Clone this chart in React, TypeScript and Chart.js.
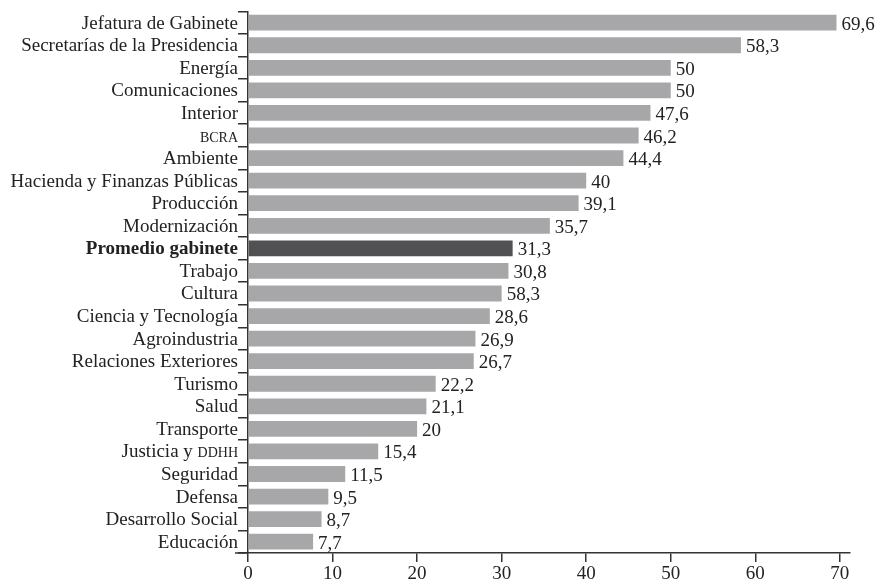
import React, { useEffect, useRef } from "react";
import { Chart, registerables } from "chart.js";

Chart.register(...registerables);

const categories = [
  "Jefatura de Gabinete",
  "Secretarías de la Presidencia",
  "Energía",
  "Comunicaciones",
  "Interior",
  "BCRA",
  "Ambiente",
  "Hacienda y Finanzas Públicas",
  "Producción",
  "Modernización",
  "Promedio gabinete",
  "Trabajo",
  "Cultura",
  "Ciencia y Tecnología",
  "Agroindustria",
  "Relaciones Exteriores",
  "Turismo",
  "Salud",
  "Transporte",
  "Justicia y DDHH",
  "Seguridad",
  "Defensa",
  "Desarrollo Social",
  "Educación",
];

const values = [
  69.6, 58.3, 50, 50, 47.6, 46.2, 44.4, 40, 39.1, 35.7, 31.3, 30.8, 30.0, 28.6,
  26.9, 26.7, 22.2, 21.1, 20, 15.4, 11.5, 9.5, 8.7, 7.7,
];

const valueLabels = [
  "69,6", "58,3", "50", "50", "47,6", "46,2", "44,4", "40", "39,1", "35,7",
  "31,3", "30,8", "58,3", "28,6", "26,9", "26,7", "22,2", "21,1", "20", "15,4",
  "11,5", "9,5", "8,7", "7,7",
];

const xTicks = [0, 10, 20, 30, 40, 50, 60, 70];

const highlightIndex = 10;
const FONT = "'Liberation Serif', 'Times New Roman', serif";
const FS = 19;
const SMALL = 14;
const TEXT = "#222222";
const AXIS = "#333333";

const labelPlugin = {
  id: "customLabels",
  afterDraw(chart: any) {
    const ctx = chart.ctx;
    const ys = chart.scales.y;
    const xs = chart.scales.x;
    const area = chart.chartArea;
    ctx.save();
    ctx.strokeStyle = AXIS;
    ctx.lineWidth = 1.5;
    ctx.beginPath();
    ctx.moveTo(area.left - 13, area.bottom);
    ctx.lineTo(area.left, area.bottom);
    ctx.stroke();

    ctx.fillStyle = TEXT;
    ctx.textBaseline = "alphabetic";
    categories.forEach((cat, i) => {
      const yc = ys.getPixelForValue(i);
      const xr = area.left - 10;
      const yb = yc + 6;
      ctx.textAlign = "right";
      if (cat === "BCRA") {
        ctx.font = `${SMALL}px ${FONT}`;
        ctx.fillText("BCRA", xr, yb);
      } else if (cat === "Justicia y DDHH") {
        ctx.font = `${SMALL}px ${FONT}`;
        const w = ctx.measureText("DDHH").width;
        ctx.fillText("DDHH", xr, yb);
        ctx.font = `${FS}px ${FONT}`;
        ctx.fillText("Justicia y ", xr - w, yb);
      } else {
        ctx.font = `${i === highlightIndex ? "bold " : ""}${FS}px ${FONT}`;
        ctx.fillText(cat, xr, yb);
      }
      ctx.textAlign = "left";
      ctx.font = `${FS}px ${FONT}`;
      const xe = xs.getPixelForValue(values[i]);
      ctx.fillText(valueLabels[i], xe + 5, yc + 7);
    });
    ctx.restore();
  },
};

export default function App() {
  const ref = useRef<HTMLCanvasElement>(null);
  useEffect(() => {
    if (!ref.current) return;
    const chart = new Chart(ref.current, {
      type: "bar",
      data: {
        labels: categories,
        datasets: [
          {
            data: values,
            backgroundColor: values.map((_, i) =>
              i === highlightIndex ? "#515153" : "#a7a7a9"
            ),
            borderWidth: 0,
            barPercentage: 0.7,
            categoryPercentage: 1,
          },
        ],
      },
      options: {
        indexAxis: "y",
        animation: false,
        responsive: true,
        maintainAspectRatio: false,
        layout: { padding: { top: 9, right: 30, bottom: 0, left: 0 } },
        plugins: {
          legend: { display: false },
          tooltip: { enabled: false },
        },
        scales: {
          x: {
            type: "linear",
            min: 0,
            max: 71.2,
            afterBuildTicks(scale: any) {
              scale.ticks = xTicks.map((v) => ({ value: v }));
            },
            afterFit(scale: any) {
              scale.height = 31;
            },
            ticks: {
              font: { family: FONT, size: FS },
              color: TEXT,
              padding: 1,
              includeBounds: false,
              maxRotation: 0,
            },
            grid: {
              drawOnChartArea: false,
              drawTicks: true,
              tickLength: 9,
              color: AXIS,
              lineWidth: 1.5,
            },
            border: { display: true, color: AXIS, width: 1.5 },
          },
          y: {
            type: "category",
            afterFit(scale: any) {
              scale.width = 248;
            },
            ticks: {
              color: "rgba(0,0,0,0)",
              font: { family: FONT, size: FS },
              autoSkip: false,
              padding: 0,
            },
            grid: {
              offset: true,
              drawOnChartArea: false,
              drawTicks: true,
              tickLength: 10,
              color: AXIS,
              lineWidth: 1.5,
            },
            border: { display: true, color: AXIS, width: 1.5 },
          },
        },
      },
      plugins: [labelPlugin],
    });
    return () => chart.destroy();
  }, []);
  return (
    <div style={{ position: "absolute", left: 0, top: 0, width: 880, height: 584 }}>
      <canvas ref={ref} />
    </div>
  );
}
